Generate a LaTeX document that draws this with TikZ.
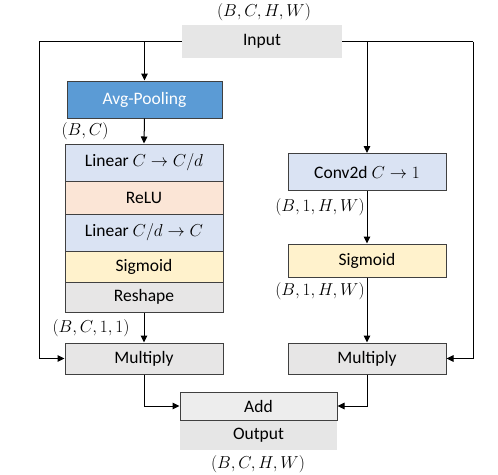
\documentclass[tikz,border=0pt]{standalone}
\usepackage{fontspec}
\setmainfont{Carlito}
\usetikzlibrary{arrows.meta}
\definecolor{bdr}{HTML}{404040}
\definecolor{avgc}{HTML}{5B9BD5}
\definecolor{linc}{HTML}{DAE3F3}
\definecolor{reluc}{HTML}{FBE5D6}
\definecolor{sigc}{HTML}{FFF2CC}
\definecolor{grayc}{HTML}{E7E6E6}
\definecolor{addc}{HTML}{EDEDED}
\definecolor{ioc}{HTML}{E6E6E6}
\tikzset{
  blk/.style={draw=bdr, line width=1pt, minimum width=158pt, inner sep=0pt, font=\fontsize{17.5}{20}\selectfont},
  io/.style={fill=ioc, minimum width=160pt, inner sep=0pt, font=\fontsize{17.5}{20}\selectfont},
  lbl/.style={inner sep=0pt, font=\fontsize{16}{19}\selectfont},
  arr/.style={line width=1pt, -{Triangle[length=7pt,width=6.5pt]}},
  ln/.style={line width=1pt}
}
\begin{document}
\begin{tikzpicture}[x=1pt,y=-1pt]
\useasboundingbox (0,0) rectangle (498,474);
% input / output
\node[io, minimum height=33pt] (in) at (262,41.5) {Input};
\node[lbl] (lin) at (264,12) {$(B,C,H,W)$};
% left branch
\node[blk, fill=avgc, text=white, minimum width=155pt, minimum height=37pt] (avg) at (144.5,99.5) {Avg-Pooling};
\node[blk, fill=linc, minimum height=37pt] (l1) at (144,162.5) {Linear $C\to C/d$};
\node[blk, fill=reluc, minimum height=33pt] (relu) at (144,197.5) {ReLU};
\node[blk, fill=linc, minimum height=37pt] (l2) at (144,232.5) {Linear $C/d\to C$};
\node[blk, fill=sigc, minimum height=31pt] (sig1) at (144,266.5) {Sigmoid};
\node[blk, fill=grayc, minimum height=30pt] (resh) at (144,297) {Reshape};
\node[blk, fill=grayc, minimum height=31pt] (mul1) at (144,358.5) {Multiply};
% right branch
\node[blk, fill=linc, minimum height=37pt] (conv) at (367,172) {Conv2d $C\to 1$};
\node[blk, fill=sigc, minimum height=33pt] (sig2) at (367,260.5) {Sigmoid};
\node[blk, fill=grayc, minimum height=31pt] (mul2) at (367,358.5) {Multiply};
% add / output
\node[blk, fill=addc, minimum width=157pt, minimum height=28pt] (add) at (258.5,406) {Add};
\node[io, minimum width=157pt, minimum height=29pt, anchor=north] (out) at (add.south) {Output};
\node[lbl] (lout) at (258,464) {$(B,C,H,W)$};
% labels
\node[lbl] (lbc) at (85,131) {$(B,C)$};
\node[lbl] (lbc11) at (91,328) {$(B,C,1,1)$};
\node[lbl] (lb1a) at (320,207) {$(B,1,H,W)$};
\node[lbl] (lb1b) at (320,291) {$(B,1,H,W)$};
% corner coordinates
\coordinate (lc) at (39,41.5);
\coordinate (rc) at (473,41.5);
% connectors
\draw[ln] (in.west) -- (lc);
\draw[arr] (lc) |- (mul1.west);
\draw[ln] (in.east) -- (rc);
\draw[arr] (rc) |- (mul2.east);
\draw[arr] (avg.north |- in.west) -- (avg.north);
\draw[arr] (avg.south) -- (l1.north);
\draw[arr] (resh.south) -- (mul1.north);
\draw[arr] (conv.north |- in.east) -- (conv.north);
\draw[arr] (conv.south) -- (sig2.north);
\draw[arr] (sig2.south) -- (mul2.north);
\draw[arr] (mul1.south) |- (add.west);
\draw[arr] (mul2.south) |- (add.east);
\end{tikzpicture}
\end{document}
